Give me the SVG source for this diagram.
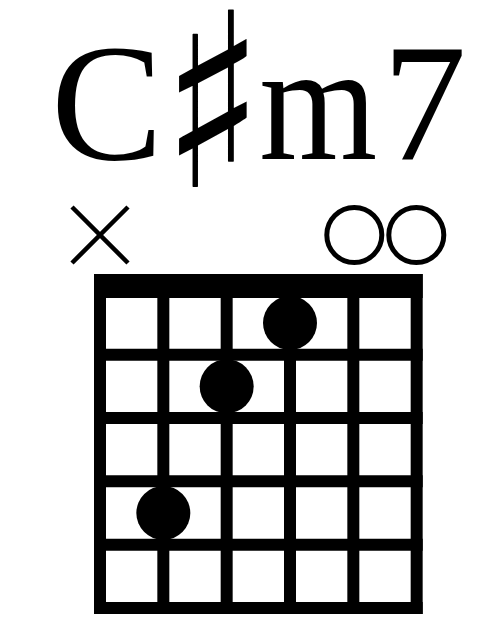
<svg xmlns="http://www.w3.org/2000/svg" width="500" height="625" viewBox="0 0 500 625">
<style>
.title{font-family:"Liberation Serif","Times New Roman",serif;font-size:168px;fill:#000}
.sharp{font-family:"DejaVu Sans",sans-serif;font-size:243px;fill:#000}
.line{stroke:#000;stroke-width:12;fill:none}
.dot{fill:#000}
.open{fill:none;stroke:#000;stroke-width:5}
.mute{stroke:#000;stroke-width:4.5;fill:none}
</style>
<rect width="500" height="625" fill="#fff"/>
<g id="title">
<text class="title" x="51" y="158.5">C</text>
<text class="sharp" transform="translate(161,187) scale(0.88,1)" x="0" y="0">♯</text>
<text class="title" x="259.3" y="158.5" textLength="118" lengthAdjust="spacingAndGlyphs">m</text>
<text class="title" x="382.6" y="158.5">7</text>
</g>
<g id="markers">
<g id="mute-string-6"><path class="mute" d="M72 207L128 263M128 207L72 263"/></g>
<circle id="open-string-2" class="open" cx="354.3" cy="235" r="27.5"/>
<circle id="open-string-1" class="open" cx="416.3" cy="235" r="27.5"/>
</g>
<g id="fretboard">
<rect id="nut" x="94" y="274" width="328.7" height="24" fill="#000"/>
<g id="strings">
<line class="line" x1="100" y1="274" x2="100" y2="614"/>
<line class="line" x1="163.33" y1="274" x2="163.33" y2="614"/>
<line class="line" x1="226.67" y1="274" x2="226.67" y2="614"/>
<line class="line" x1="290" y1="274" x2="290" y2="614"/>
<line class="line" x1="353.33" y1="274" x2="353.33" y2="614"/>
<line class="line" x1="416.67" y1="274" x2="416.67" y2="614"/>
</g>
<g id="frets">
<line class="line" x1="94" y1="354.67" x2="422.67" y2="354.67"/>
<line class="line" x1="94" y1="418" x2="422.67" y2="418"/>
<line class="line" x1="94" y1="481.33" x2="422.67" y2="481.33"/>
<line class="line" x1="94" y1="544.67" x2="422.67" y2="544.67"/>
<line class="line" x1="94" y1="608" x2="422.67" y2="608"/>
</g>
</g>
<g id="fingers">
<circle id="finger-string-3-fret-1" class="dot" cx="290" cy="323" r="27"/>
<circle id="finger-string-4-fret-2" class="dot" cx="226.67" cy="386.3" r="27"/>
<circle id="finger-string-5-fret-4" class="dot" cx="163.33" cy="513" r="27"/>
</g>
</svg>
